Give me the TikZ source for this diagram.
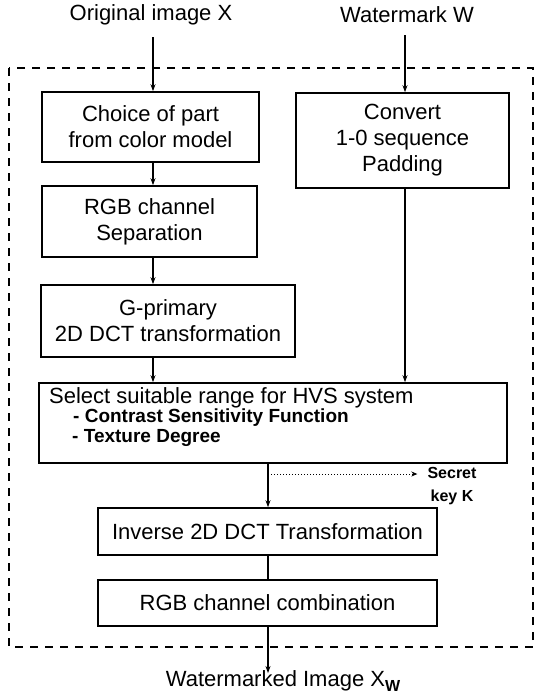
\documentclass[tikz,border=0pt]{standalone}
\usepackage{fontspec}
\setmainfont{Liberation Sans}
\usetikzlibrary{arrows.meta}
\begin{document}
\begin{tikzpicture}[x=1pt,y=-1pt,
  box/.style={draw,line width=1.6pt,rectangle,inner sep=0pt,align=center,
    font=\fontsize{22}{26}\selectfont},
  arr/.style={line width=1.4pt,-{Stealth[length=7pt,width=5pt]}},
  plain/.style={line width=1.4pt},
  lbl/.style={inner sep=0pt,font=\fontsize{22}{26}\selectfont},
  keylbl/.style={inner sep=0pt,align=center,font=\fontsize{16}{23}\selectfont\bfseries}]
\useasboundingbox (0,0) rectangle (537,696);
% dashed frame
\draw[line width=1.3pt,dash pattern=on 8pt off 7pt] (9,68) rectangle (533,647);
% top labels
\node[lbl] (orig) at (151,15) {Original image X};
\node[lbl] (wm) at (407,15) {Watermark W};
% boxes
\node[box,minimum width=217,minimum height=70] (b1) at (150.5,127) {Choice of part\\from color model};
\node[box,minimum width=215,minimum height=71] (b2) at (149.5,221.5) {RGB channel\\Separation};
\node[box,minimum width=213,minimum height=95] (cv) at (402.5,140.5) {Convert\\1-0 sequence\\Padding};
\node[box,minimum width=254,minimum height=72] (g) at (168,321) {G-primary\\2D DCT transformation};
\node[box,minimum width=468,minimum height=80] (sel) at (273,423) {};
\node[inner sep=0pt,anchor=west,font=\fontsize{22}{26}\selectfont] (selt) at (49,398) {Select suitable range for HVS system};
\node[inner sep=0pt,anchor=west,font=\fontsize{19}{20}\selectfont\bfseries] (selc) at (73,418) {- Contrast Sensitivity Function};
\node[inner sep=0pt,anchor=west,font=\fontsize{19}{20}\selectfont\bfseries] (seld) at (72,438) {- Texture Degree};
\node[box,minimum width=339,minimum height=47] (inv) at (267.5,531.5) {Inverse 2D DCT Transformation};
\node[box,minimum width=339,minimum height=46] (comb) at (267.5,603) {RGB channel combination};
\node[keylbl] (key) at (452,486) {Secret\\key K};
\node[inner sep=0pt,font=\fontsize{22}{26}\selectfont] (out) at (283,681) {Watermarked Image X\raisebox{-0.25em}{\fontsize{16}{16}\selectfont\bfseries W}};
% columns
\coordinate (colA) at (153,0);
\coordinate (colB) at (405,0);
\coordinate (colC) at (268,0);
\coordinate (keyrow) at (0,474);
% connectors
\draw[arr] (orig.south -| colA) ++(0,12) -- (b1.north -| colA);
\draw[arr] (wm.south -| colB) ++(0,12) -- (cv.north -| colB);
\draw[arr] (b1.south -| colA) -- (b2.north -| colA);
\draw[arr] (b2.south -| colA) -- (g.north -| colA);
\draw[arr] (g.south -| colA) -- (sel.north -| colA);
\draw[arr] (cv.south -| colB) -- (sel.north -| colB);
\draw[arr] (sel.south -| colC) -- (inv.north -| colC);
\draw[line width=1pt,dotted,-{Stealth[length=6pt,width=5pt]}] (keyrow -| colC) -- ([xshift=-10pt]key.west |- keyrow);
\draw[plain] (inv.south -| colC) -- (comb.north -| colC);
\draw[arr] (comb.south -| colC) -- ([yshift=-3pt]out.north -| colC);
\end{tikzpicture}
\end{document}
